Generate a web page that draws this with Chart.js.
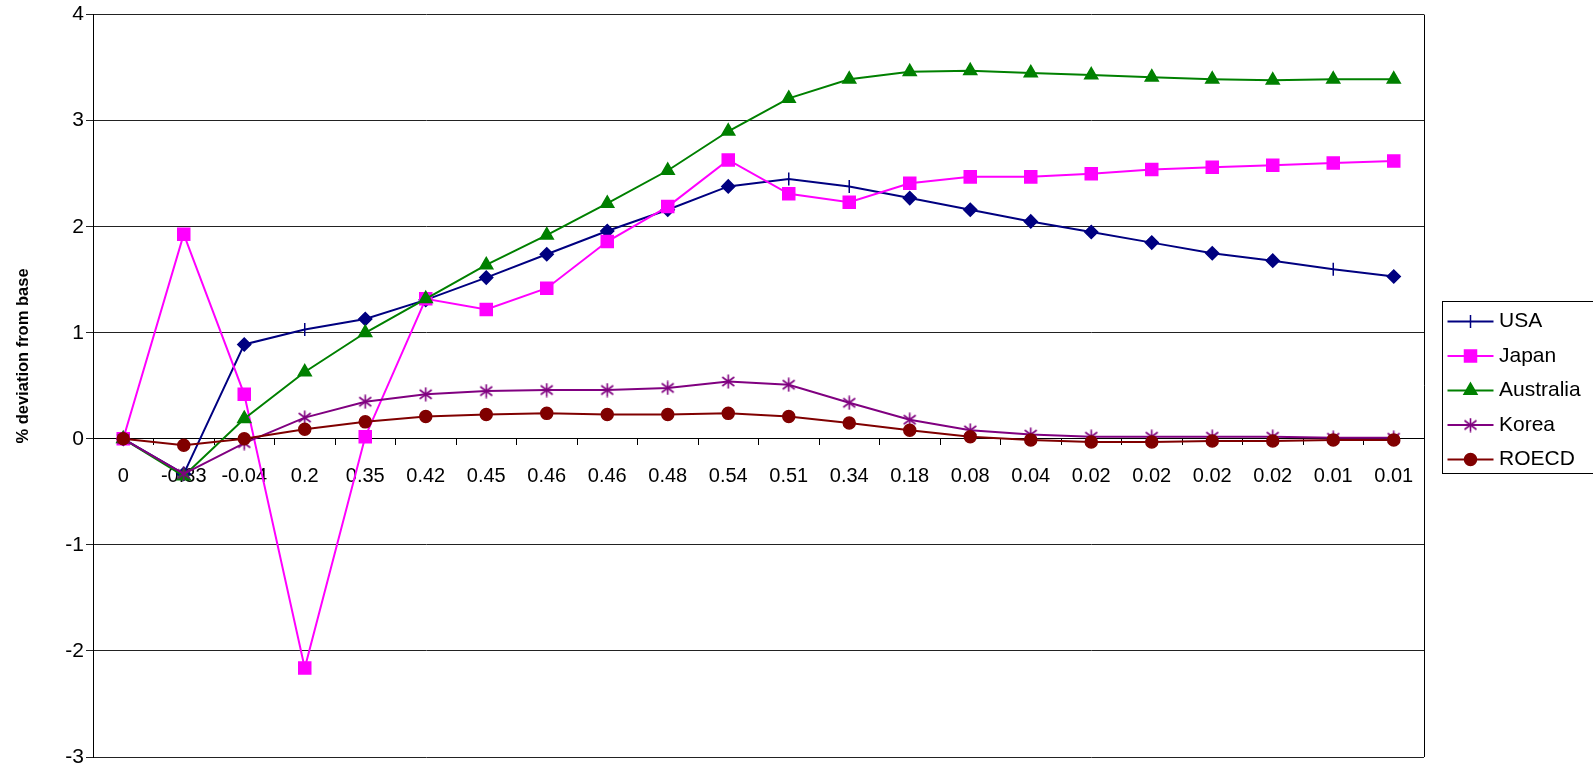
<!DOCTYPE html>
<html>
<head>
<meta charset="utf-8">
<script src="https://cdn.jsdelivr.net/npm/chart.js@4/dist/chart.umd.min.js"></script>
<style>
  html, body { margin: 0; padding: 0; background: #fff; overflow: hidden; }
  #wrap { width: 1593px; height: 773px; }
</style>
</head>
<body>
<div id="wrap"><canvas id="chart"></canvas></div>
<script>
let labels = ["0", "-0.33", "-0.04", "0.2", "0.35", "0.42", "0.45", "0.46", "0.46", "0.48", "0.54",
  "0.51", "0.34", "0.18", "0.08", "0.04", "0.02", "0.02", "0.02", "0.02", "0.01", "0.01"];

let usa = [0, -0.33, 0.89, 1.03, 1.13, 1.31, 1.52, 1.74, 1.96, 2.16, 2.38,
  2.45, 2.38, 2.27, 2.16, 2.05, 1.95, 1.85, 1.75, 1.68, 1.60, 1.53];
let japan = [0, 1.93, 0.42, -2.16, 0.02, 1.32, 1.22, 1.42, 1.86, 2.19, 2.63,
  2.31, 2.23, 2.41, 2.47, 2.47, 2.50, 2.54, 2.56, 2.58, 2.60, 2.62];
let australia = [0, -0.35, 0.19, 0.63, 1.0, 1.32, 1.64, 1.92, 2.22, 2.53, 2.90,
  3.21, 3.39, 3.46, 3.47, 3.45, 3.43, 3.41, 3.39, 3.38, 3.39, 3.39];
let korea = [0, -0.33, -0.04, 0.2, 0.35, 0.42, 0.45, 0.46, 0.46, 0.48, 0.54,
  0.51, 0.34, 0.18, 0.08, 0.04, 0.02, 0.02, 0.02, 0.02, 0.01, 0.01];
let roecd = [0, -0.06, 0.0, 0.09, 0.16, 0.21, 0.23, 0.24, 0.23, 0.23, 0.24,
  0.21, 0.15, 0.08, 0.02, -0.01, -0.03, -0.03, -0.02, -0.02, -0.01, -0.01];

// points of the USA series that Excel drew as a short vertical dash
let usa_dash_points = [3, 11, 12, 20];

Chart.defaults.font.family = "'Liberation Sans', Arial, sans-serif";
Chart.defaults.color = "#000";

// asterisk marker for Korea (vertical bar + X)
function makeStar(color) {
  let c = document.createElement("canvas");
  c.width = 15;
  c.height = 15;
  let g = c.getContext("2d");
  g.strokeStyle = color;
  g.lineWidth = 1.6;
  g.beginPath();
  g.moveTo(7.5, 0.5); g.lineTo(7.5, 14.5);
  g.moveTo(1.5, 3); g.lineTo(13.5, 12);
  g.moveTo(1.5, 12); g.lineTo(13.5, 3);
  g.stroke();
  return c;
}
let starImg = makeStar("#800080");

let usa_styles = usa.map((v, i) => (usa_dash_points.includes(i) ? "line" : "rectRot"));
let usa_rot = usa.map((v, i) => (usa_dash_points.includes(i) ? 90 : 0));

let series = [
  { label: "USA", data: usa, color: "#000080", style: usa_styles, rot: usa_rot, radius: 6.5, legendStyle: "line", legendRot: 90, order: 5 },
  { label: "Japan", data: japan, color: "#FF00FF", style: "rect", rot: 0, radius: 8.5, legendStyle: "rect", legendRot: 0, order: 4 },
  { label: "Australia", data: australia, color: "#008000", style: "triangle", rot: 0, radius: 7.5, legendStyle: "triangle", legendRot: 0, order: 3 },
  { label: "Korea", data: korea, color: "#800080", style: starImg, rot: 0, radius: 7, legendStyle: starImg, legendRot: 0, order: 2 },
  { label: "ROECD", data: roecd, color: "#800000", style: "circle", rot: 0, radius: 6, legendStyle: "circle", legendRot: 0, order: 1 },
];

let datasets = series.map((s) => ({
  label: s.label,
  data: s.data,
  borderColor: s.color,
  backgroundColor: s.color,
  pointBackgroundColor: s.color,
  pointBorderColor: s.color,
  pointStyle: s.style,
  pointRotation: s.rot,
  pointRadius: s.radius,
  pointBorderWidth: 1.5,
  borderWidth: 2,
  tension: 0,
  order: s.order,
}));

let legend_width = 169;

// plot frame right edge, y title, legend border and legend line+marker samples
let excelBits = {
  id: "excelBits",
  afterLayout(chart) {
    let lg = chart.legend;
    let dx = chart.chartArea.right + 10 - lg.left;
    lg.left += dx;
    lg.right += dx;
    lg.top += 5;
    lg.bottom += 5;
  },
  afterDraw(chart) {
    let ctx = chart.ctx;
    let a = chart.chartArea;
    ctx.save();
    ctx.strokeStyle = "#000";
    ctx.lineWidth = 1;
    ctx.beginPath();
    ctx.moveTo(Math.round(a.right) + 0.5, a.top);
    ctx.lineTo(Math.round(a.right) + 0.5, a.bottom);
    ctx.stroke();

    // y axis title
    ctx.save();
    ctx.translate(23, 356);
    ctx.rotate(-Math.PI / 2);
    ctx.font = "bold 16.5px 'Liberation Sans', Arial, sans-serif";
    ctx.fillStyle = "#000";
    ctx.textAlign = "center";
    ctx.textBaseline = "middle";
    ctx.fillText("% deviation from base", 0, 0);
    ctx.restore();

    // legend
    let boxes = chart.legend.legendHitBoxes;
    if (boxes && boxes.length) {
      let first = boxes[0];
      let last = boxes[boxes.length - 1];
      let c0 = first.top + first.height / 2;
      let c1 = last.top + last.height / 2;
      ctx.strokeStyle = "#000";
      ctx.lineWidth = 1;
      ctx.strokeRect(Math.round(first.left - 6) + 0.5, Math.round(c0 - 21) + 0.5, chart.width, Math.round(c1 - c0 + 34));
      boxes.forEach((b, i) => {
        let s = series[i];
        let cy = b.top + b.height / 2;
        ctx.strokeStyle = s.color;
        ctx.fillStyle = s.color;
        ctx.lineWidth = 2;
        ctx.beginPath();
        ctx.moveTo(b.left, cy);
        ctx.lineTo(b.left + 46, cy);
        ctx.stroke();
        ctx.lineWidth = 1.5;
        Chart.helpers.drawPoint(ctx, { pointStyle: s.legendStyle, radius: s.radius, rotation: s.legendRot, borderWidth: 1.5 }, b.left + 23, cy);
      });
    }
    ctx.restore();
  },
};

let config = {
  type: "line",
  data: { labels: labels, datasets: datasets },
  options: {
    responsive: true,
    maintainAspectRatio: false,
    animation: false,
    layout: { padding: { top: 14, right: 0, bottom: 16, left: 0 } },
    plugins: {
      tooltip: { enabled: false },
      legend: {
        position: "right",
        align: "center",
        labels: {
          boxWidth: 41,
          boxHeight: 21,
          padding: 13.5,
          font: { size: 21 },
          color: "#000",
          sort: (a, b) => a.datasetIndex - b.datasetIndex,
          generateLabels: (chart) =>
            chart.data.datasets.map((d, i) => ({
              text: d.label,
              fillStyle: "rgba(0,0,0,0)",
              strokeStyle: "rgba(0,0,0,0)",
              lineWidth: 0,
              hidden: false,
              datasetIndex: i,
            })),
        },
      },
    },
    scales: {
      x: {
        offset: true,
        position: { y: 0 },
        grid: { offset: true, drawOnChartArea: false, drawTicks: true, tickLength: 6, color: "#000" },
        border: { display: true, color: "#000" },
        ticks: { font: { size: 20 }, color: "#000", padding: 20, maxRotation: 0, autoSkip: false },
      },
      y: {
        min: -3,
        max: 4,
        ticks: { stepSize: 1, font: { size: 21 }, color: "#000", padding: 2 },
        grid: { color: "#222", tickLength: 7 },
        border: { display: true, color: "#000" },
        afterFit: (scale) => {
          scale.width = 93;
        },
      },
    },
  },
  plugins: [excelBits],
};

let chart = new Chart(document.getElementById("chart"), config);

// the legend box runs past the right edge in the original, so fix its width
let legendFit = chart.legend.fit;
chart.legend.fit = function () {
  legendFit.call(this);
  this.width = legend_width;
};
chart.update();
</script>
</body>
</html>
